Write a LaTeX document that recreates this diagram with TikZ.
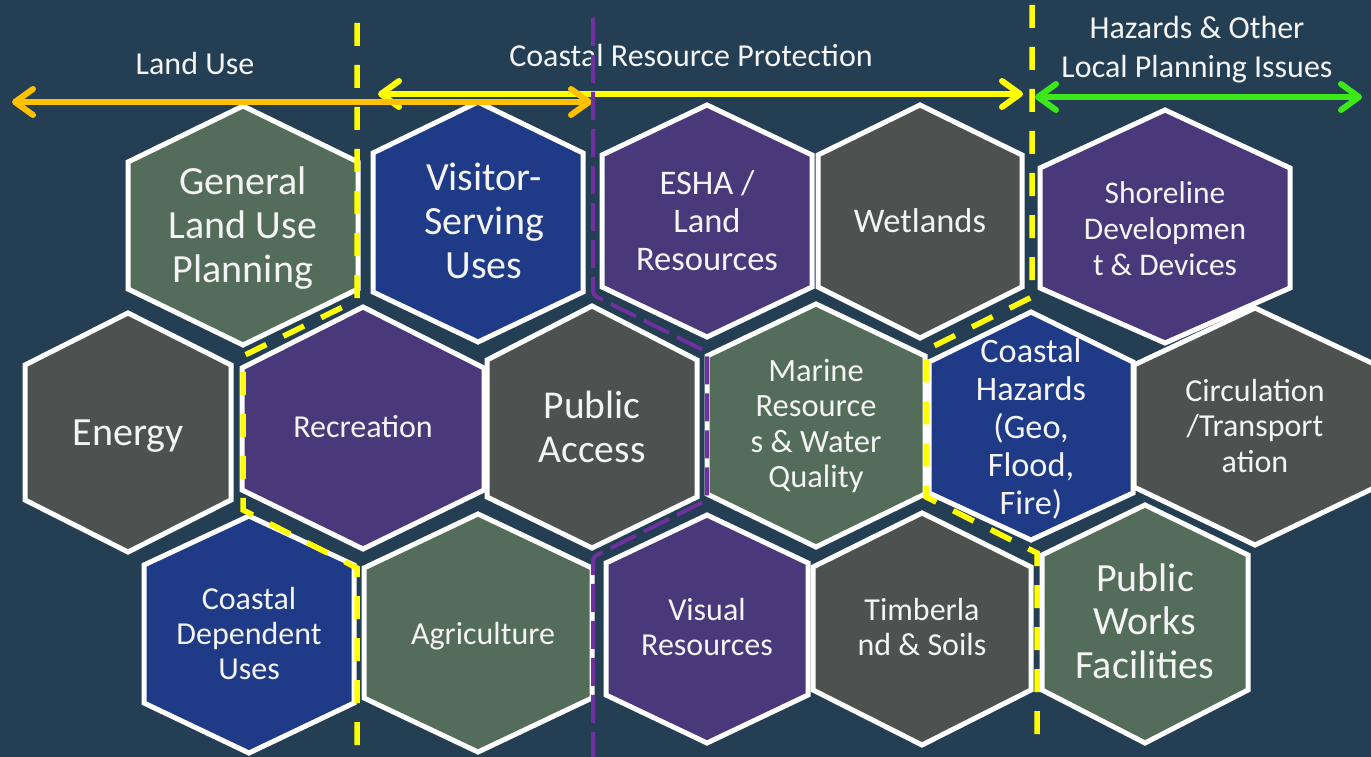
\documentclass[tikz,border=0pt]{standalone}
\usepackage{fontspec}
\setmainfont{Carlito}
\usetikzlibrary{arrows.meta}
\definecolor{bg}{HTML}{243F53}
\definecolor{hgray}{HTML}{4D5250}
\definecolor{hgreen}{HTML}{546C5A}
\definecolor{hpurple}{HTML}{4A397A}
\definecolor{hblue}{HTML}{1F3A86}
\definecolor{txt}{HTML}{F4F4F4}
\definecolor{aorange}{HTML}{FFC000}
\definecolor{ayellow}{HTML}{FFFF00}
\definecolor{agreen}{HTML}{3DE81A}
\definecolor{dpurple}{HTML}{7030A0}
\newcommand{\hexcell}[8]{%
  \draw[hexline,fill=#8] (#2,#4) -- (#2+#3,#5) -- (#2+#3,#6) -- (#2,#7) -- (#2-#3,#6) -- (#2-#3,#5) -- cycle;
  \coordinate (#1) at (#2,{(#4+#7)/2});}
\newcommand{\fs}[2]{\fontsize{#1}{#2}\selectfont}
\begin{document}
\begin{tikzpicture}[x=1pt,y=-1pt,
  hexline/.style={draw=white,line width=5pt,line join=miter},
  lbl/.style={text=txt,align=center,inner sep=0pt},
  toplbl/.style={text=txt,align=center,inner sep=0pt,font=\fs{32}{39.5}},
  barb/.style={line width=6pt,line cap=round,
    {Straight Barb[length=18pt,width=26pt,line cap=round,line join=round]}-{Straight Barb[length=18pt,width=26pt,line cap=round,line join=round]}},
  ydash/.style={draw=ayellow,line width=5.5pt,dash pattern=on 23pt off 19pt},
  pdash/.style={draw=dpurple,line width=4pt,dash pattern=on 28pt off 9pt,rounded corners=4pt}]
\fill[bg] (0,0) rectangle (1371,757);
\useasboundingbox (0,0) rectangle (1371,757);
% hexagons
\hexcell{hGen}{243}{115}{106}{162}{289}{345}{hgreen}
\hexcell{hVis}{478}{105}{102}{153}{292}{342}{hblue}
\hexcell{hEsha}{707}{105}{105}{155}{287}{337}{hpurple}
\hexcell{hWet}{920}{102}{105}{155}{287}{338}{hgray}
\hexcell{hShore}{1165}{125}{110}{168}{288}{343}{hpurple}
\hexcell{hEn}{128}{103}{313}{365}{500}{552}{hgray}
\hexcell{hRec}{363}{121}{307}{368}{490}{549}{hpurple}
\hexcell{hPA}{592}{105}{306}{360}{497}{548}{hgray}
\hexcell{hMar}{816}{109}{304}{356}{494}{547}{hgreen}
\hexcell{hHaz}{1031}{102}{312}{362}{493}{540}{hblue}
\hexcell{hCirc}{1255}{121}{308}{365}{487}{545}{hgray}
\hexcell{hCD}{249}{105}{516}{565}{703}{753}{hblue}
\hexcell{hAg}{478}{114}{514}{568}{698}{752}{hgreen}
\hexcell{hVisu}{707}{101}{515}{563}{695}{743}{hpurple}
\hexcell{hTim}{922}{109}{513}{567}{690}{745}{hgray}
\hexcell{hPW}{1145}{103}{505}{555}{690}{743}{hgreen}
% hexagon labels
\node[lbl,font=\fs{40}{44}] (tGen) at (243,228) {General\\Land Use\\Planning};
\node[lbl,font=\fs{40}{44}] (tVis) at (484,221) {Visitor-\\Serving\\Uses};
\node[lbl,font=\fs{34.5}{38}] (tEsha) at (707,221) {ESHA /\\Land\\Resources};
\node[lbl,font=\fs{34.5}{38}] (tWet) at (920,221) {Wetlands};
\node[lbl,font=\fs{31.5}{36}] (tShore) at (1165,229) {Shoreline\\Developmen\\t \& Devices};
\node[lbl,font=\fs{40}{44}] (tEn) at (128,436) {Energy};
\node[lbl,font=\fs{32}{36}] (tRec) at (363,427) {Recreation};
\node[lbl,font=\fs{39.5}{44}] (tPA) at (592,427) {Public\\Access};
\node[lbl,font=\fs{32.5}{35.5}] (tMar) at (816,426) {Marine\\Resource\\s \& Water\\Quality};
\node[lbl,font=\fs{34.3}{37.8}] (tHaz) at (1031,429) {Coastal\\Hazards\\(Geo,\\Flood,\\Fire)};
\node[lbl,font=\fs{32}{35.5}] (tCirc) at (1255,426) {Circulation\\/Transport\\ation};
\node[lbl,font=\fs{32}{35}] (tCD) at (249,634) {Coastal\\Dependent\\Uses};
\node[lbl,font=\fs{32}{35}] (tAg) at (483,636) {Agriculture};
\node[lbl,font=\fs{32}{35}] (tVisu) at (707,627) {Visual\\Resources};
\node[lbl,font=\fs{32}{35}] (tTim) at (922,627) {Timberla\\nd \& Soils};
\node[lbl,font=\fs{40}{43.5}] (tPW) at (1145,621) {Public\\Works\\Facilities};
% top labels
\node[toplbl] (lLand) at (195,64) {Land Use};
\node[toplbl] (lCoast) at (691,56) {Coastal Resource Protection};
\node[toplbl] (lHaz) at (1197,49.5) {Hazards \& Other\\Local Planning Issues};
% arrows
\coordinate (yA) at (378,94); \coordinate (yB) at (1023,94);
\coordinate (oA) at (12,102); \coordinate (oB) at (592,102);
\coordinate (gA) at (1035,97); \coordinate (gB) at (1362,97);
\draw[barb,draw=ayellow] (yA) -- (yB);
\draw[barb,draw=aorange] (oA) -- (oB);
\draw[barb,draw=agreen] (gA) -- (gB);
% dividing lines
\coordinate (d1a) at (357,23); \coordinate (d1b) at (357,300); \coordinate (d1c) at (243,356);
\coordinate (d1d) at (243,510); \coordinate (d1e) at (357,568); \coordinate (d1f) at (357,747);
\draw[ydash] (d1a) -- (d1b) -- (d1c) -- (d1d) -- (d1e) -- (d1f);
\coordinate (d2a) at (593,18); \coordinate (d2b) at (593,295); \coordinate (d2c) at (707,352);
\coordinate (d2d) at (707,500); \coordinate (d2e) at (593,557); \coordinate (d2f) at (593,757);
\draw[pdash] (d2a) -- (d2b) -- (d2c) -- (d2d) -- (d2e) -- (d2f);
\coordinate (d3a) at (1032,5); \coordinate (d3b) at (1032,297); \coordinate (d3c) at (926,350);
\coordinate (d3d) at (926,497); \coordinate (d3e) at (1037,553); \coordinate (d3f) at (1037,735);
\draw[ydash] (d3a) -- (d3b) -- (d3c) -- (d3d) -- (d3e) -- (d3f);
\end{tikzpicture}
\end{document}
